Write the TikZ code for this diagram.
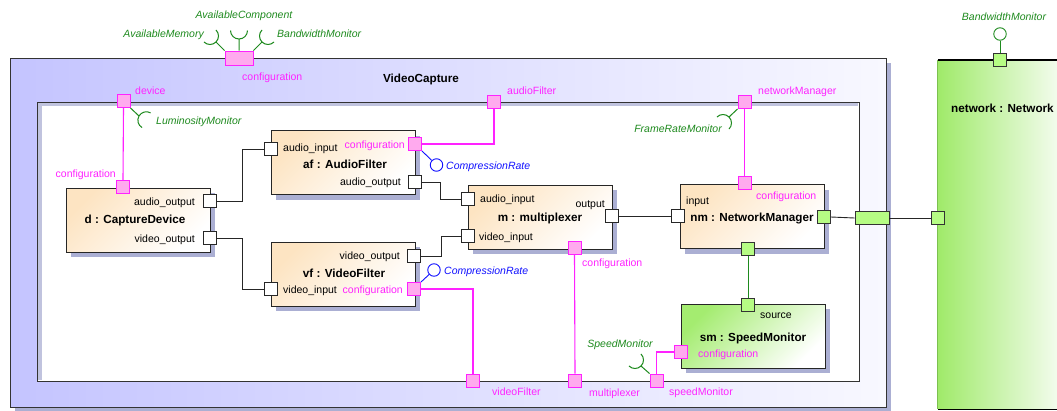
\documentclass[tikz,border=0pt]{standalone}
\usepackage{fontspec}
\setmainfont{Liberation Sans}
\usetikzlibrary{calc}
\definecolor{shadowc}{HTML}{ABAFD3}
\definecolor{lav}{HTML}{C4C4FF}
\definecolor{lavend}{HTML}{F8F8FF}
\definecolor{cream}{HTML}{FDE4C2}
\definecolor{mag}{HTML}{FF22FF}
\definecolor{pinkf}{HTML}{FFAAEE}
\definecolor{sgreen}{HTML}{1E8A1E}
\definecolor{netg}{HTML}{A0EA6A}
\definecolor{netw}{HTML}{F2FCEC}
\definecolor{gportf}{HTML}{B6FC84}
\definecolor{smg}{HTML}{A4EC70}
\definecolor{netedge}{HTML}{7CC050}
\definecolor{bluec}{HTML}{1010FF}
\newcommand\compbox[4]{%
  \fill[shadowc] (#2-72+5,#3-32+5) rectangle (#2+72+5,#3+32+5);
  \node[#4] (#1) at (#2,#3) {};}
\newcommand\sockat[2]{ arc[start angle=#2, end angle=#2+90, radius=8.5] (#1) arc[start angle=#2, end angle=#2-90, radius=8.5]}
\begin{document}
\begin{tikzpicture}[x=1pt,y=-1pt,
  lbl/.style={font=\fontsize{10.5}{12}\selectfont, inner sep=0pt},
  mlbl/.style={lbl, text=mag},
  glbl/.style={lbl, text=sgreen, font=\fontsize{10.5}{12}\selectfont\itshape},
  blbl/.style={lbl, text=bluec, font=\fontsize{10.5}{12}\selectfont\itshape},
  ttl/.style={inner sep=0pt, font=\fontsize{11.7}{13}\selectfont\bfseries},
  comp/.style={draw=black!85, line width=0.9pt, minimum width=144pt, minimum height=64pt, inner sep=0pt,
    top color=cream, bottom color=white, shading angle=45},
  gcomp/.style={draw=black!85, line width=0.9pt, minimum width=144pt, minimum height=64pt, inner sep=0pt,
    top color=smg, bottom color=white, shading angle=45},
  wport/.style={draw=black!85, fill=white, line width=0.8pt, minimum size=13pt, inner sep=0pt},
  pport/.style={draw=mag, fill=pinkf, line width=0.8pt, minimum size=13pt, inner sep=0pt},
  gport/.style={draw=black!80, fill=gportf, line width=0.8pt, minimum size=13pt, inner sep=0pt},
  wire/.style={draw=black!85, line width=0.9pt},
  mwire/.style={draw=mag, line width=1.1pt},
  gwire/.style={draw=sgreen, line width=1pt},
  sockline/.style={draw=sgreen, line width=1pt},
  lolli/.style={circle, draw=bluec, fill=white, line width=0.9pt, minimum size=12.5pt, inner sep=0pt},
  strip/.style={fill=shadowc!75}]
\useasboundingbox (0,0) rectangle (1057,410);
% outer frame
\fill[shadowc] (15,63) rectangle (891,412);
\node[draw=black!80, line width=1pt, minimum width=876pt, minimum height=349pt, inner sep=0pt,
  left color=lav, right color=lavend] (vc) at (448,232.5) {};
\node[draw=black!80, line width=1pt, fill=white, minimum width=822pt, minimum height=279pt, inner sep=0pt] (ic) at (448,241.5) {};
\fill[strip] (38,103) rectangle (42,380);
\fill[strip] (38,103) rectangle (858,106);
\node[ttl, anchor=base] (vct) at (421,82) {VideoCapture};
% network
\node[minimum width=119pt, minimum height=349pt, inner sep=0pt, left color=netg, right color=netw] (net) at (997.5,234.5) {};
\draw[netedge, line width=1pt] (net.north west) -- (net.south west);
\draw[black, line width=2pt] (net.north west) -- (net.north east);
\draw[black, line width=1pt] (net.south west) -- (net.south east);
\node[ttl, anchor=base west] (nett) at (951,112.5) {network : Network};
% components
\compbox{d}{138}{220}{comp}
\compbox{af}{343}{162.5}{comp}
\compbox{m}{540}{217}{comp}
\compbox{vf}{343}{274}{comp}
\compbox{nm}{752}{216.5}{comp}
\compbox{sm}{753}{336}{gcomp}
% titles
\node[ttl, anchor=base] (dt) at (135,223.5) {d : CaptureDevice};
\node[ttl, anchor=base] (aft) at (345,168) {af : AudioFilter};
\node[ttl, anchor=base] (mt) at (540,221.5) {m : multiplexer};
\node[ttl, anchor=base] (vft) at (344,277.5) {vf : VideoFilter};
\node[ttl, anchor=base] (nmt) at (752,221.5) {nm : NetworkManager};
\node[ttl, anchor=base] (smt) at (753,341) {sm : SpeedMonitor};
% internal port labels
\node[lbl, anchor=base east] (l1) at (195,205) {audio\_output};
\node[lbl, anchor=base east] (l2) at (195,242) {video\_output};
\node[lbl, anchor=base west] (l3) at (283,151) {audio\_input};
\node[lbl, anchor=base east] (l4) at (401,185) {audio\_output};
\node[lbl, anchor=base west] (l5) at (480,202) {audio\_input};
\node[lbl, anchor=base west] (l6) at (479,240) {video\_input};
\node[lbl, anchor=base east] (l7) at (605,207) {output};
\node[lbl, anchor=base east] (l8) at (400,259) {video\_output};
\node[lbl, anchor=base west] (l9) at (283,293) {video\_input};
\node[lbl, anchor=base west] (l10) at (686,204) {input};
\node[lbl, anchor=base west] (l11) at (760,318) {source};
% configuration labels
\node[mlbl, anchor=base west] (c0) at (242,80) {configuration};
\node[mlbl, anchor=base east] (c1) at (116,177) {configuration};
\node[mlbl, anchor=base east] (c2) at (405,148) {configuration};
\node[mlbl, anchor=base west] (c3) at (582,266) {configuration};
\node[mlbl, anchor=base east] (c4) at (403,293) {configuration};
\node[mlbl, anchor=base west] (c5) at (756,199) {configuration};
\node[mlbl, anchor=base west] (c6) at (698,357) {configuration};
\node[mlbl, anchor=base west] (c7) at (135,94) {device};
\node[mlbl, anchor=base west] (c8) at (507,94) {audioFilter};
\node[mlbl, anchor=base west] (c9) at (758,94) {networkManager};
\node[mlbl, anchor=base west] (c10) at (492,395) {videoFilter};
\node[mlbl, anchor=base west] (c11) at (589,396) {multiplexer};
\node[mlbl, anchor=base west] (c12) at (669,395) {speedMonitor};
% interface labels
\node[glbl, anchor=base] (g1) at (244,18) {AvailableComponent};
\node[glbl, anchor=base east] (g2) at (204,37) {AvailableMemory};
\node[glbl, anchor=base west] (g3) at (277,37) {BandwidthMonitor};
\node[glbl, anchor=base west] (g4) at (156,124) {LuminosityMonitor};
\node[glbl, anchor=base east] (g5) at (722,132) {FrameRateMonitor};
\node[glbl, anchor=base] (g6) at (620,347) {SpeedMonitor};
\node[glbl, anchor=base] (g7) at (1004,20) {BandwidthMonitor};
\node[blbl, anchor=base west] (b1) at (446,169) {CompressionRate};
\node[blbl, anchor=base west] (b2) at (444,274) {CompressionRate};
% ports
\node[pport, minimum width=28pt, minimum height=14pt] (pcfg) at (239,58) {};
\node[pport] (pdev) at (123.5,101) {};
\node[pport] (paf) at (494,102) {};
\node[pport] (pnm) at (744.5,102) {};
\node[pport] (pvf) at (473,381) {};
\node[pport] (pmux) at (575,380.5) {};
\node[pport] (psm) at (656.5,380.5) {};
\node[pport] (dcfg) at (123,187) {};
\node[wport] (dao) at (210,201) {};
\node[wport] (dvo) at (210,238) {};
\node[wport] (afai) at (271,149) {};
\node[pport] (afcfg) at (415,144) {};
\node[wport] (afao) at (415,182) {};
\node[wport] (mai) at (468,199) {};
\node[wport] (mvi) at (468,236) {};
\node[wport] (mout) at (612,216) {};
\node[pport] (mcfg) at (574.5,248) {};
\node[wport] (vfvo) at (414,256) {};
\node[wport] (vfvi) at (271,289) {};
\node[pport] (vfcfg) at (414,289) {};
\node[pport] (nmcfg) at (744.5,183) {};
\node[wport] (nmin) at (678,216) {};
\node[gport] (nmr) at (824,217) {};
\node[gport] (nmb) at (748,249) {};
\node[gport] (smsrc) at (748,305) {};
\node[pport] (smcfg) at (681,352) {};
\node[gport, minimum width=34pt] (pwide) at (872,218) {};
\node[gport] (pnet) at (938,218) {};
\node[gport] (pbw) at (1000,60) {};
% lollipops
\node[lolli] (lc1) at (436.5,165) {};
\node[lolli] (lc2) at (434,270) {};
\node[lolli, draw=sgreen] (lc3) at (1000,34) {};
\draw[draw=bluec, line width=0.9pt] (afcfg.south east) -- (lc1);
\draw[draw=bluec, line width=0.9pt] (vfcfg.north east) -- (lc2);
\draw[gwire] (pbw.north) -- (lc3.south);
% sockets
\coordinate (sAM) at (216,42);
\coordinate (sAC) at (239,39);
\coordinate (sBM) at (262,42);
\coordinate (sLM) at (139,116);
\coordinate (sFR) at (729,117);
\coordinate (sSM) at (641,366);
\draw[sockline] (pcfg.north west) -- (sAM) \sockat{sAM}{45};
\draw[sockline] (pcfg.north) -- (sAC) \sockat{sAC}{90};
\draw[sockline] (pcfg.north east) -- (sBM) \sockat{sBM}{135};
\draw[sockline] (pdev.south east) -- (sLM) \sockat{sLM}{210};
\draw[sockline] (pnm.south west) -- (sFR) \sockat{sFR}{315};
\draw[sockline] (psm.north west) -- (sSM) \sockat{sSM}{45};
% black wires
\draw[wire] (dao.east) -- (242,201) |- (afai.west);
\draw[wire] (dvo.east) -- (242,238) |- (vfvi.west);
\draw[wire] (afao.east) -- (440,182) |- (mai.west);
\draw[wire] (vfvo.east) -- (441,256) |- (mvi.west);
\draw[wire] (mout.east) -- (nmin.west);
\draw[wire] (nmr.east) -- (pwide.west);
\draw[wire] (pwide.east) -- (pnet.west);
\draw[gwire] (nmb.south) -- (smsrc.north);
% magenta wires
\draw[mwire] (pdev.south) -- (dcfg.north);
\draw[mwire] (afcfg.east) -| (paf.south);
\draw[mwire] (pnm.south) -- (nmcfg.north);
\draw[mwire] (mcfg.south) -- (pmux.north);
\draw[mwire] (vfcfg.east) -| (pvf.north);
\draw[mwire] (smcfg.west) -| (psm.north);
\end{tikzpicture}
\end{document}
